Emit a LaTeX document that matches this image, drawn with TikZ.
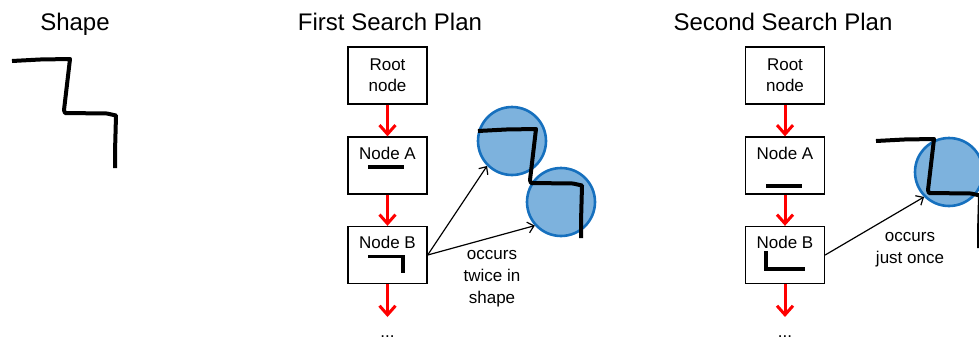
\documentclass[tikz,border=0pt]{standalone}
\usepackage{fontspec}
\setmainfont{Liberation Sans}
\usetikzlibrary{arrows.meta}

\definecolor{discfill}{RGB}{125,178,221}
\definecolor{discedge}{RGB}{22,112,190}
\definecolor{flowred}{RGB}{255,0,0}

\tikzset{
  % hand-drawn staircase stroke, origin at its left end
  zigshape/.pic={
    \draw[penline] (0,0) -- (28,-1.5) -- (58,-2) -- (52,49) -- (53,52)
      -- (95,52.5) -- (104,54.5) -- (103,91) -- (103,107);
  },
}

\begin{document}
\begin{tikzpicture}[x=1pt,y=-1pt,
  title/.style={font=\fontsize{24}{28}\selectfont, anchor=base, inner sep=0},
  planbox/.style={draw, line width=1.3pt, minimum width=79pt, minimum height=57pt, inner sep=0},
  boxtext/.style={font=\fontsize{17}{21}\selectfont, align=center, inner sep=0},
  note/.style={font=\fontsize{17}{22}\selectfont, align=center, inner sep=0},
  flow/.style={draw=flowred, line width=3pt, -{Straight Barb[length=9pt,width=16pt]}},
  pointer/.style={line width=1.2pt, -{Straight Barb[length=6pt,width=11pt]}},
  glyph/.style={line width=3.6pt},
  disc/.style={circle, draw=discedge, fill=discfill, line width=2.6pt, minimum size=68pt, inner sep=0},
  penline/.style={line width=4pt, line join=round},
]
\clip (0,0) rectangle (979,341);

% titles
\node[title] (t0) at (75,30.5) {Shape};
\node[title] (t1) at (390,30.5) {First Search Plan};
\node[title] (t2) at (783,30.5) {Second Search Plan};

% the query shape
\pic (s0) at (12,61) {zigshape};

% ---------- first search plan ----------
\node[planbox, boxtext] (r1) at (387.5,75.5) {Root\\node};
\node[planbox] (a1) at (387.5,165.5) {};
\node[boxtext] (a1t) at (387.5,153) {Node A};
\draw[glyph] (368,167) -- (404,167);
\node[planbox] (b1) at (387.5,255) {};
\node[boxtext] (b1t) at (387.5,242.5) {Node B};
\draw[glyph, line join=miter] (368,256.5) -- (403,256.5) -- (403,273);
\coordinate (e1) at (387.5,317);
\node[boxtext, anchor=base] (d1) at (387.5,337.5) {...};

\draw[flow] (r1.south) -- (a1.north);
\draw[flow] (a1.south) -- (b1.north);
\draw[flow] (b1.south) -- (e1);

\node[disc] (c1) at (512,141) {};
\node[disc] (c2) at (561,202) {};
\pic (s1) at (478,131) {zigshape};

\draw[pointer] (b1.east) -- (c1.225);
\draw[pointer] (b1.east) -- (c2.222);
\node[note] (n1) at (492,279) {occurs\\twice in\\shape};

% ---------- second search plan ----------
\node[planbox, boxtext] (r2) at (785,75.5) {Root\\node};
\node[planbox] (a2) at (785,165.5) {};
\node[boxtext] (a2t) at (785,153) {Node A};
\draw[glyph] (766,186) -- (802,186);
\node[planbox] (b2) at (785,255) {};
\node[boxtext] (b2t) at (785,242.5) {Node B};
\draw[glyph, line join=miter] (766,251) -- (766,269) -- (805,269);
\coordinate (e2) at (785,317);
\node[boxtext, anchor=base] (d2) at (785,337.5) {...};

\draw[flow] (r2.south) -- (a2.north);
\draw[flow] (a2.south) -- (b2.north);
\draw[flow] (b2.south) -- (e2);

\node[disc] (c3) at (949,172) {};
\pic (s2) at (876,141) {zigshape};

\draw[pointer] (b2.east) -- (c3.225);
\node[note] (n2) at (910,249.5) {occurs\\just once};
\end{tikzpicture}
\end{document}
